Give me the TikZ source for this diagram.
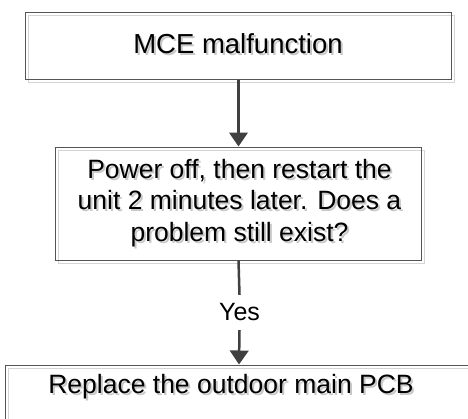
\documentclass[tikz,border=0pt]{standalone}
\usepackage{fontspec}
\setmainfont{Liberation Sans}
\usetikzlibrary{arrows.meta}
\definecolor{boxline}{HTML}{555555}
\definecolor{arrowgray}{HTML}{404040}
\definecolor{shadowgray}{HTML}{D4D4D4}
\definecolor{textshadow}{HTML}{C8C8C8}
\tikzset{
  flowbox/.style={draw=boxline, line width=1pt, inner sep=0pt, rectangle},
  boxshadow/.style={draw=shadowgray, line width=1pt, inner sep=0pt, rectangle},
  flowtext/.style={font=\fontsize{26.5}{31.7}\selectfont, align=center, inner sep=0pt, text=black},
  bigtext/.style={flowtext, font=\fontsize{27.5}{32}\selectfont},
  ghosttext/.style={text=textshadow},
  flowarrow/.style={draw=arrowgray, line width=2.5pt, -{Triangle[width=18.5pt,length=14pt]}},
  flowline/.style={draw=arrowgray, line width=2.5pt},
}
\begin{document}
\begin{tikzpicture}[x=1pt, y=-1pt]
\useasboundingbox (0,0) rectangle (468,418);
% box shadows
\node[boxshadow, minimum width=426pt, minimum height=67pt] (s1) at (241.5,48.5) {};
\node[boxshadow, minimum width=366pt, minimum height=113pt] (s2) at (241.5,206.5) {};
\node[boxshadow, minimum width=468pt, minimum height=67pt] (s3) at (242,401.5) {};
% boxes
\node[flowbox, minimum width=426pt, minimum height=67pt] (b1) at (238.5,45.5) {};
\node[flowbox, minimum width=366pt, minimum height=113pt] (b2) at (238.5,203.5) {};
\node[flowbox, minimum width=468pt, minimum height=67pt] (b3) at (239,398.5) {};
% texts with soft drop shadow
\node[bigtext, ghosttext] (g1) at (240,46) {MCE malfunction};
\node[bigtext] (t1) at (238,44) {MCE malfunction};
\node[flowtext, ghosttext] (g2) at (241.5,205) {Power off, then restart the\\unit 2 minutes later. Does a\\problem still exist?};
\node[flowtext] (t2) at (239.5,203) {Power off, then restart the\\unit 2 minutes later. Does a\\problem still exist?};
\node[flowtext, ghosttext] (g3) at (233,389) {Replace the outdoor main PCB};
\node[flowtext] (t3) at (231,387) {Replace the outdoor main PCB};
% connectors
\node[flowtext, font=\fontsize{25}{30}\selectfont, minimum height=35pt] (yes) at (239.5,312.5) {Yes};
\draw[flowarrow] (b1.south) -- (b2.north);
\draw[flowline] (b2.south) -- (yes.north);
\draw[flowarrow] (yes.south) -- (b3.north);
\end{tikzpicture}
\end{document}
